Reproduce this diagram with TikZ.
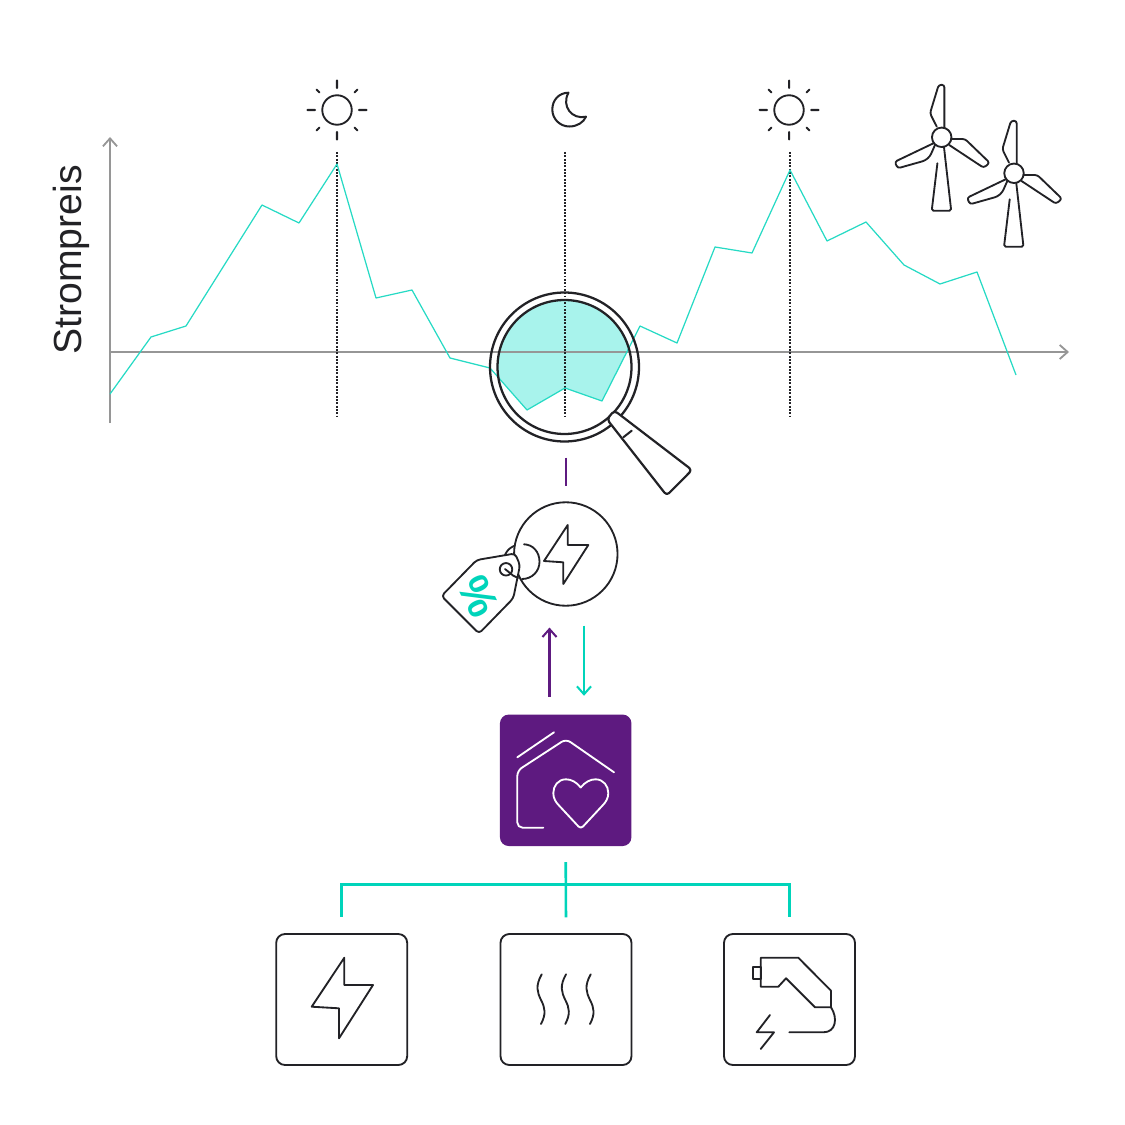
\documentclass[tikz,border=0pt]{standalone}
\usepackage{fontspec}
\setmainfont{Liberation Sans}
\usetikzlibrary{arrows.meta}
\definecolor{iconblack}{RGB}{34,34,38}
\definecolor{axisgray}{RGB}{150,150,150}
\definecolor{pricegreen}{RGB}{0,212,186}
\definecolor{lensgreen}{RGB}{168,243,236}
\definecolor{homepurple}{RGB}{94,26,128}

\begin{document}
\begin{tikzpicture}[x=0.02cm,y=-0.02cm,>={Straight Barb[length=4.5pt,width=8pt]}]

%
% Styles
%
\tikzstyle{icon} = [draw=iconblack,line width=1.05pt,line join=round,line cap=round]
\tikzstyle{box} = [rectangle,rounded corners=5pt,draw=iconblack,line width=1.05pt,minimum size=2.62cm,inner sep=0pt]
\tikzstyle{ring} = [circle,draw=iconblack,inner sep=0pt]
\tikzstyle{axis} = [draw=axisgray,line width=1.05pt]
\tikzstyle{marker} = [draw=iconblack,line width=0.95pt,dash pattern=on 1.1pt off 0.8pt]
\tikzstyle{feed} = [draw=pricegreen,line width=1.15pt]
\tikzstyle{bus} = [draw=pricegreen,line width=1.5pt]
\tikzstyle{order} = [draw=homepurple,line width=1.15pt]

\useasboundingbox (0,0) rectangle (1125,1125);

% lens filling
\begin{scope}
\clip (564.5,367) circle [radius=1.34cm];
\fill[lensgreen] (490,280) -- (490,368) -- (527,410) -- (565,388) -- (602,401) -- (640,326) -- (640,280) -- cycle;
\end{scope}

% chart
\coordinate (origin) at (110,352);
\coordinate (ytop) at (110,137);
\coordinate (ybottom) at (110,423);
\coordinate (xend) at (1069,352);
\draw[axis,->] (ybottom) -- (ytop);
\draw[axis,->] (origin) -- (xend);
\node[rotate=90,font=\fontsize{22.3}{24}\selectfont,text=iconblack] (price) at (71.5,260) {Strompreis};

\foreach \name/\xm in {one/337,two/565,three/790} {
  \coordinate (\name top) at (\xm,152);
  \coordinate (\name bottom) at (\xm,416);
  \draw[marker] (\name top) -- (\name bottom);
}

\draw[draw=pricegreen!85!white,line width=0.7pt,line join=round]
  (110,394) -- (151,337) -- (186,326) -- (262,205) -- (299,223) -- (337,164)
  -- (376,298) -- (412,290) -- (450,358) -- (490,368) -- (527,410) -- (565,388)
  -- (602,401) -- (640,326) -- (677,343) -- (715,247) -- (752,253) -- (790,170)
  -- (827,241) -- (866,222) -- (904,265) -- (940,284) -- (977,272) -- (1016,375);

% sun and moon
\foreach \name/\xs in {sunone/337,suntwo/789} {
  \node[ring,line width=1.05pt,minimum size=0.59cm] (\name) at (\xs,110) {};
  \draw[icon,line width=1.15pt] (\xs,80.5) -- (\xs,88) (\xs,132) -- (\xs,139.5)
    (\xs-29.5,110) -- (\xs-22,110) (\xs+22,110) -- (\xs+29.5,110)
    (\xs-20.5,89.5) -- (\xs-17.5,92.5) (\xs+17.5,92.5) -- (\xs+20.5,89.5)
    (\xs-20.5,130.5) -- (\xs-17.5,127.5) (\xs+17.5,127.5) -- (\xs+20.5,130.5);
}
\draw[icon,line width=1.15pt] (568.5,92.7) .. controls (559,92.7) and (552.3,100.1) .. (552.3,109.5)
  .. controls (552.3,118.9) and (559.9,126.5) .. (569.3,126.5)
  .. controls (577,126.5) and (583.5,122.5) .. (586,116.7)
  .. controls (572,120) and (561,106) .. cycle;

% wind turbines
\foreach \name/\xt/\yt in {hubone/941.7/137.3,hubtwo/1014/173.3} {
  \begin{scope}[shift={(\xt,\yt)}]
    \node[ring,line width=1.05pt,minimum size=0.39cm] (\name) at (0,0) {};
    \draw[icon,rounded corners=1.5pt] (2.7,-9.5) -- (2.7,-52.5) -- (-3,-52.5) -- (-11.7,-24) -- (-5,-10.7);
    \draw[icon,rounded corners=1.5pt] (9.3,1.7) -- (23.3,1.7) -- (48,25.5) -- (42,30.5) -- (7.5,7.7);
    \draw[icon,rounded corners=1.5pt] (-8.3,6) -- (-47,24.5) -- (-44,31) -- (-16.7,23.3) -- (-11.7,19) -- (-6.7,7.7);
    \draw[icon,rounded corners=1pt] (-4.3,26) -- (-10,73.5) -- (9.5,73.5) -- (2.3,10);
  \end{scope}
}

% magnifying glass
\node[ring,line width=1.3pt,minimum size=2.68cm] (lens) at (564.5,367) {};
\node[ring,line width=1.3pt,minimum size=2.98cm] (rim) at (564.5,367) {};
\draw[icon,line width=1.25pt,fill=white,rounded corners=2pt] (614.3,410.5) -- (692,470) -- (666.7,495.5) -- (607,419.3) -- cycle;
\draw[icon,line width=1.15pt] (623.3,437.3) -- (631.7,430.7);

% price tag circle
\node[ring,line width=1.05pt,minimum size=2.07cm] (tariff) at (565.8,554) {};
\draw[order,shorten <=8.5pt,shorten >=8.5pt] (tariff.north |- rim.south) -- (tariff.north);
\draw[icon] (567.7,525) -- (567.7,545) -- (588.3,545) -- (563.3,584) -- (563.3,562.3) -- (544,561) -- cycle;
\draw[icon] (524,544.3) .. controls (533,544.5) and (539.5,552) .. (539.5,561.7)
  .. controls (539.5,571.4) and (532,579) .. (522,579);
\draw[icon] (505,555) .. controls (506.5,551) and (510,547.5) .. (514,546);
\draw[icon,fill=white,rounded corners=2pt] (476.7,560) -- (515,553.5) -- (520,565) -- (513.3,598.3) -- (479,633.5) -- (441.5,596) -- cycle;
\node[ring,line width=1.05pt,minimum size=0.25cm] (taghole) at (506,569.3) {};
\draw[icon] (505,569) -- (513,575.5) -- (518,578);
\node[rotate=-64,font=\fontsize{25}{25}\selectfont\bfseries,text=pricegreen,inner sep=0pt] (percent) at (479,596) {\%};

% home box
\node[rectangle,rounded corners=5pt,fill=homepurple,minimum size=2.63cm,inner sep=0pt] (home) at (565.7,780.3) {};
\draw[draw=white,line width=1.05pt,line cap=round] (517.3,757.3) -- (554,732.3);
\draw[draw=white,line width=1.05pt,line cap=round,rounded corners=3pt] (614,772.3) -- (566,739) -- (517.3,770.7) -- (517.3,827.7) -- (543.3,827.7);
\draw[draw=white,line width=1.05pt,line join=round] (580.7,787.5) .. controls (576.5,782) and (571,779.3) .. (566,779.3)
  .. controls (558,779.3) and (553.3,786) .. (553.3,793)
  .. controls (553.3,798) and (555.5,802) .. (559,805.5) -- (578.5,826.5)
  .. controls (580,828) and (581.5,828) .. (583,826.5) -- (602.5,805.5)
  .. controls (606,802) and (608.3,798) .. (608.3,793)
  .. controls (608.3,786) and (603.5,779.3) .. (595.5,779.3)
  .. controls (590.5,779.3) and (585,782) .. cycle;

% arrows
\coordinate (upx) at (549.5,0);
\coordinate (downx) at (584,0);
\draw[order,->,shorten <=9.9pt,shorten >=11.9pt] (home.north -| upx) -- (tariff.south -| upx);
\draw[feed,->,shorten <=10.8pt,shorten >=10.5pt] (tariff.south -| downx) -- (home.north -| downx);

% device boxes
\node[box] (power) at (341.7,999.5) {};
\node[box] (heat) at (566,999.5) {};
\node[box] (charge) at (789.5,999.5) {};

\coordinate (junction) at (0,884.5);
\draw[bus] ([xshift=-0.75pt]power.north |- junction) -- ([xshift=0.75pt]charge.north |- junction);
\draw[bus,shorten <=9pt,shorten >=9pt] (home.south) -- (heat.north);
\draw[bus,shorten >=9pt] (power.north |- junction) -- (power.north);
\draw[bus,shorten >=9pt] (charge.north |- junction) -- (charge.north);

% device icons
\draw[icon] (344.3,957.7) -- (344.3,985) -- (373,985) -- (339,1038.3) -- (339,1008.3) -- (311.7,1006.7) -- cycle;
\foreach \xh in {541.7,566,590.7} {
  \draw[icon] (\xh,974.3) .. controls (\xh-6.5,986) and (\xh-4.5,992) .. (\xh-0.7,1000)
    .. controls (\xh+3.5,1008) and (\xh+4.5,1014) .. (\xh-0.7,1024);
}
\draw[icon] (752.7,966.7) rectangle (760.7,979);
\draw[icon] (760.7,957.7) -- (798.3,957.7) -- (831,990.7) -- (831,1007.3) -- (815,1007.3) -- (786,978.3) -- (778.3,986.7) -- (760.7,986.7) -- cycle;
\draw[icon] (831,1007.3) .. controls (838,1018) and (836,1032.3) .. (823.3,1032.3) -- (789.3,1032.3);
\draw[icon] (770,1015) -- (756.7,1032.3) -- (774,1032.3) -- (760.7,1049);

\end{tikzpicture}
\end{document}
